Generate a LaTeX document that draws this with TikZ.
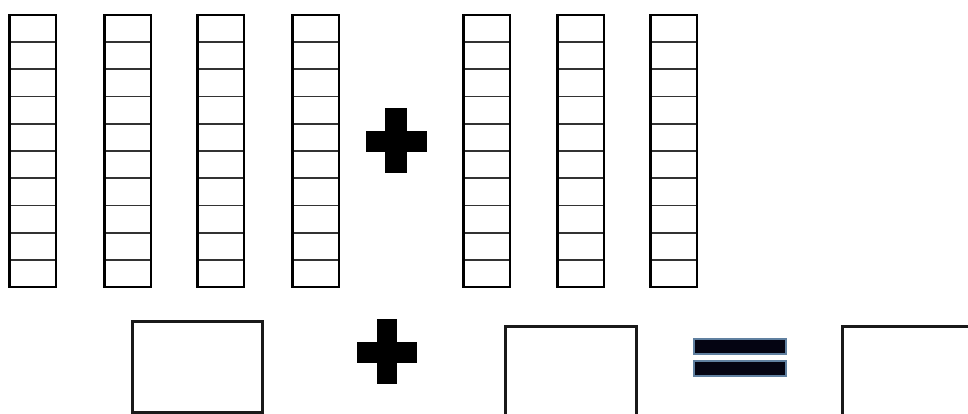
\documentclass[tikz,border=0pt]{standalone}
\definecolor{eqedge}{RGB}{96,128,160}
\definecolor{eqfill}{RGB}{4,4,18}
\begin{document}
\begin{tikzpicture}[x=1pt,y=-1pt,
  colframe/.style={draw=black,line width=2.4pt},
  cellline/.style={draw=black!80,line width=1.8pt},
  answerbox/.style={draw=black!90,line width=3pt},
  signbar/.style={fill=black},
  eqbar/.style={fill=eqfill,draw=eqedge,line width=1.4pt}]
\useasboundingbox (0,0) rectangle (968,414);
\clip (0,0) rectangle (968,414);
\fill[white] (0,0) rectangle (968,414);
% ten-columns
\foreach \xl in {9,104,197,292,463,557,650}{
  \foreach \k in {1,...,9}{
    \draw[cellline] (\xl,15+27.2*\k) -- (\xl+47,15+27.2*\k);
  }
  \draw[colframe] (\xl,15) rectangle (\xl+47,287);
  \draw[black,line width=1.2pt] (\xl+1.5,15) -- (\xl+1.5,287);
}
% top plus sign
\fill[signbar] (366,131) rectangle (427,152);
\fill[signbar] (385,108) rectangle (407,173);
% bottom boxes
\draw[answerbox] (132,321) rectangle (262,412);
\fill[signbar] (357,342) rectangle (417,363);
\fill[signbar] (377,319) rectangle (397,384);
\draw[answerbox] (505,326) rectangle (636,420);
\draw[eqbar] (694,339) rectangle (786,354);
\draw[eqbar] (694,361) rectangle (786,376);
\draw[answerbox] (842,326) rectangle (975,420);
\end{tikzpicture}
\end{document}
